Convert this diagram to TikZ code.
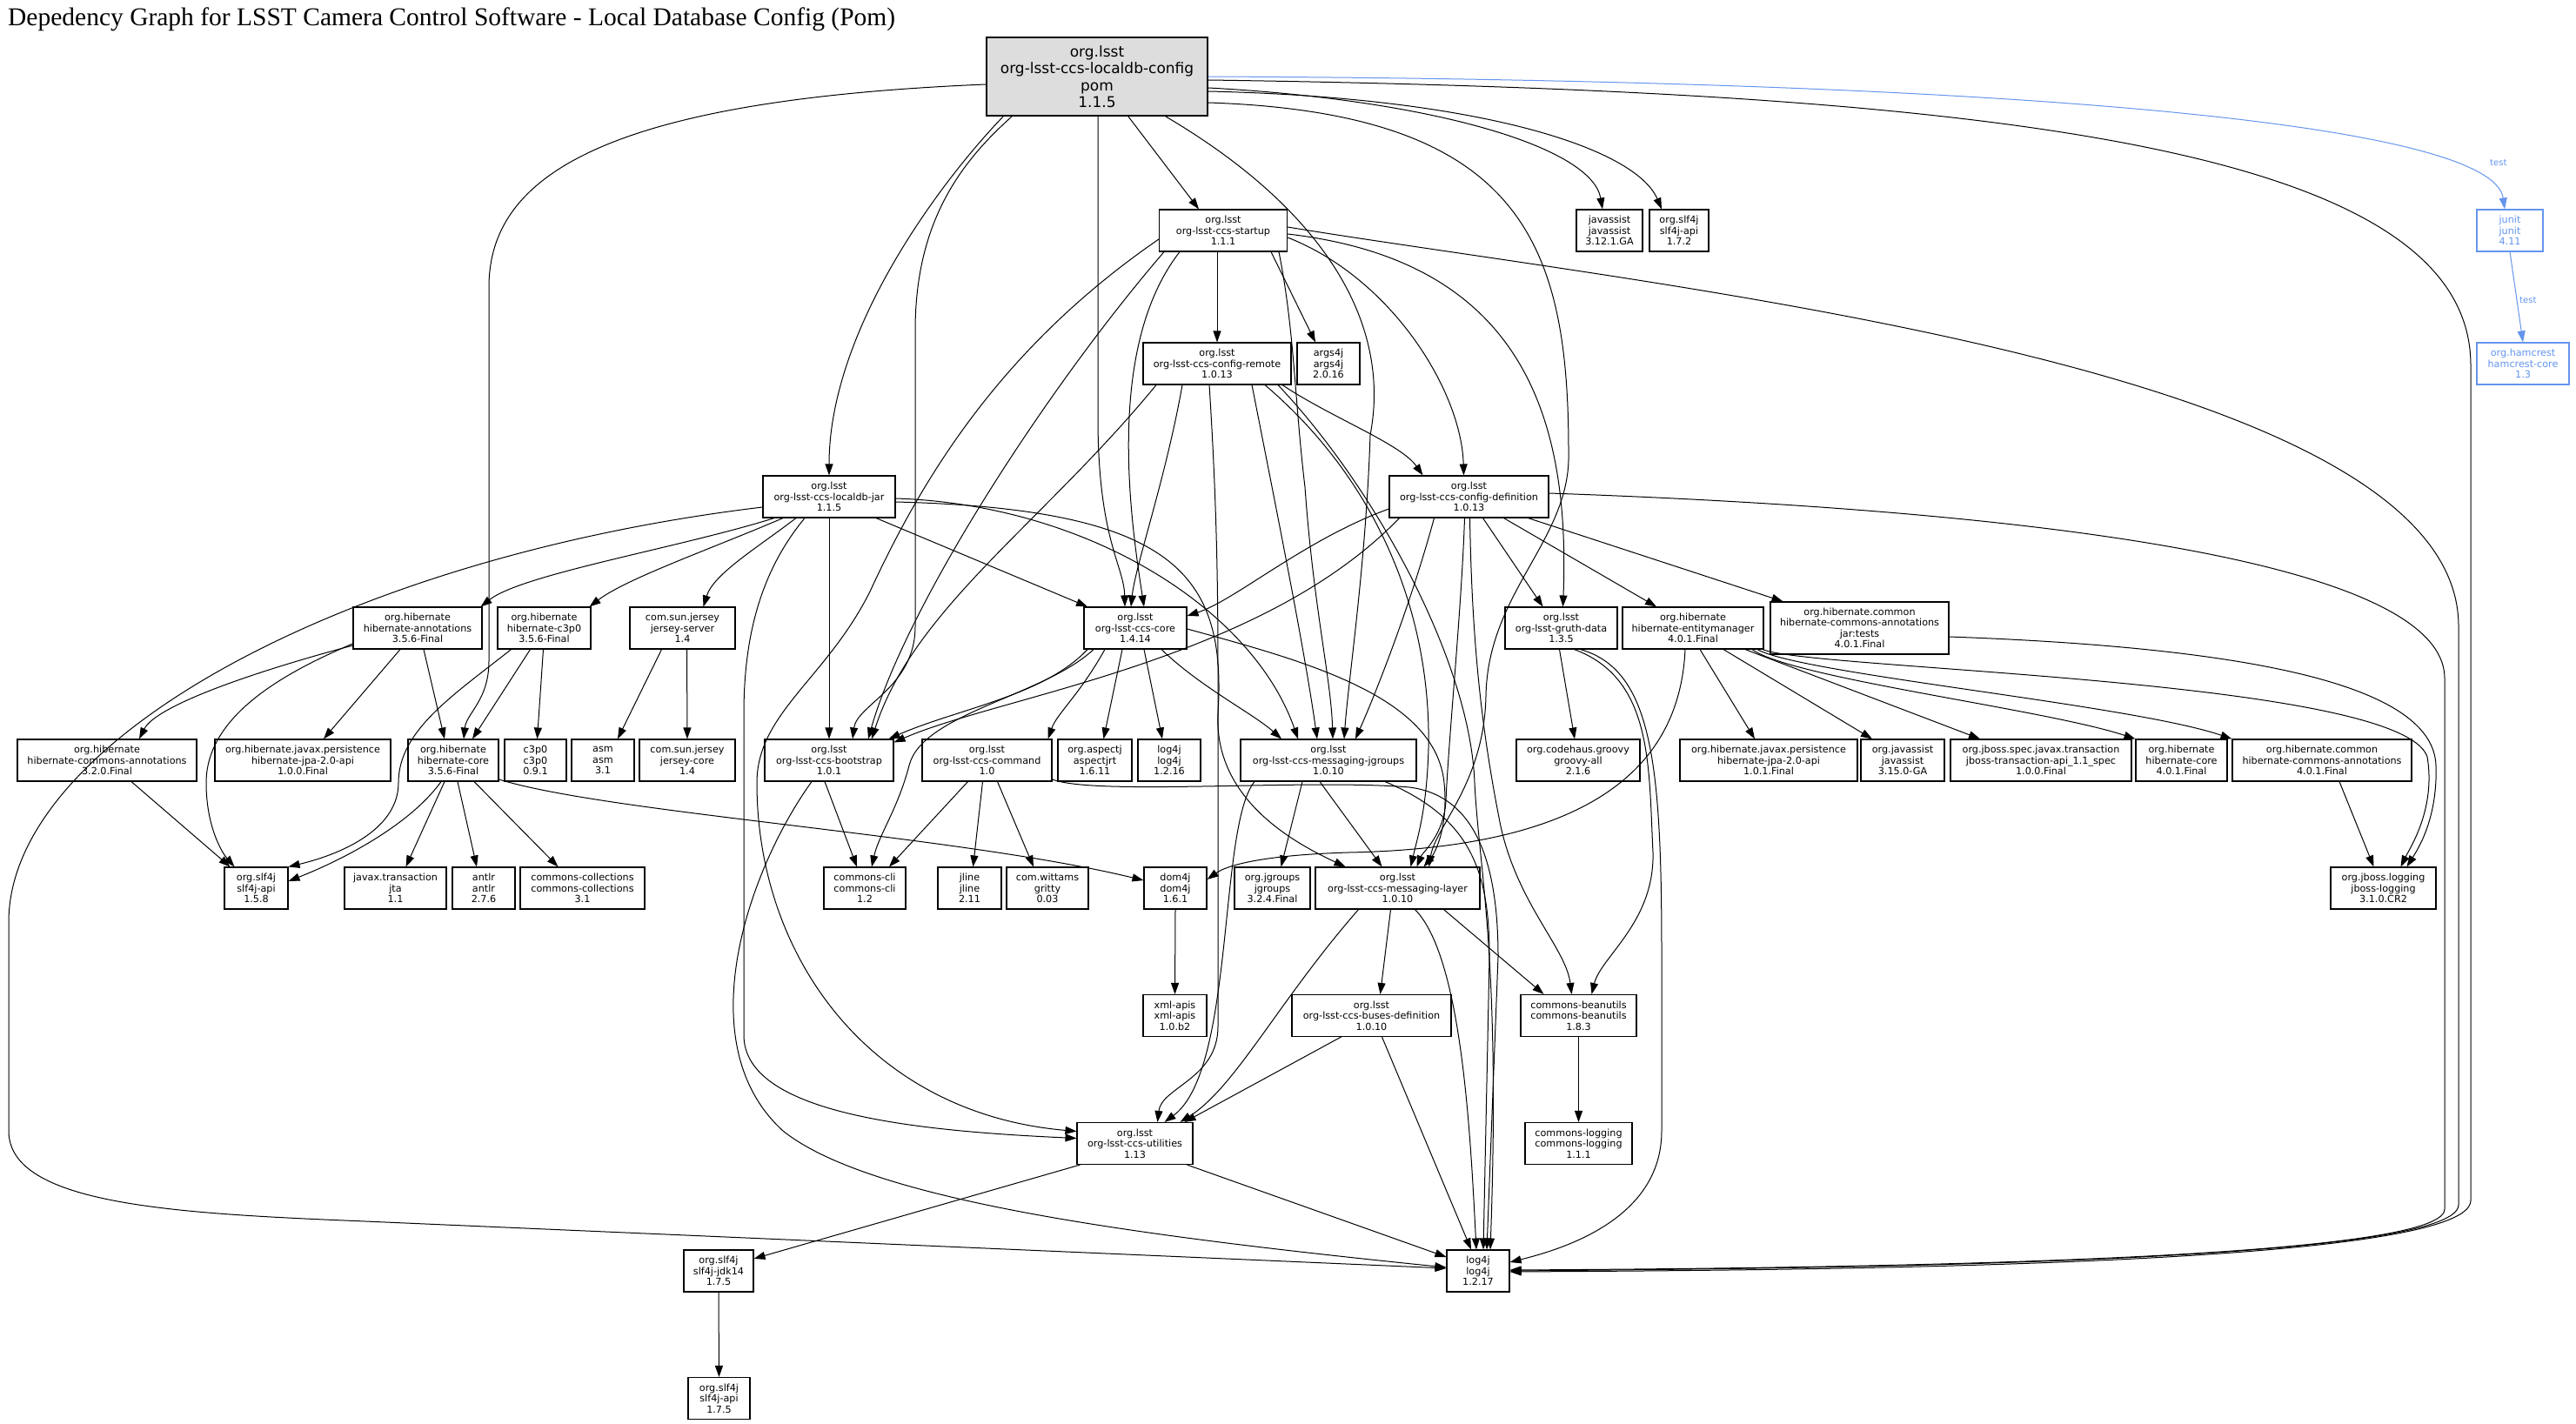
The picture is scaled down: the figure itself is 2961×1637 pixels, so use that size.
\documentclass[tikz,border=0pt]{standalone}
\usepackage{fontspec}
\setmainfont{DejaVu Sans}
\newfontfamily\titlefont{Liberation Serif}
\usetikzlibrary{arrows.meta}
\definecolor{tblue}{RGB}{100,149,237}
\definecolor{mgray}{RGB}{221,221,221}
\tikzset{
 box/.style={draw, line width=1.1pt, inner sep=0pt, align=center, minimum height=48pt, font=\fontsize{11.2}{12.5}\selectfont},
 bbox/.style={box, draw=tblue, text=tblue},
 e/.style={line width=1pt, -{Triangle[length=13pt,width=9pt]}},
 te/.style={e, tblue},
 tl/.style={text=tblue, inner sep=0pt, anchor=west, font=\fontsize{10}{12}\selectfont}
}
\begin{document}
\begin{tikzpicture}[x=1pt,y=-1pt]
\fill[white] (0,0) rectangle (2961,1637);
\useasboundingbox (0,0) rectangle (2961,1637);
\node[anchor=base west, inner sep=0pt, font=\titlefont\fontsize{29.5}{30}\selectfont] (title) at (9,30) {Depedency Graph for LSST Camera Control Software - Local Database Config (Pom)};
% row 0
\node[box, minimum width=254pt, minimum height=90pt, fill=mgray, line width=2pt, font=\fontsize{17}{19.5}\selectfont] (M) at (1261,88) {org.lsst\\org-lsst-ccs-localdb-config\\pom\\1.1.5};
% row 1
\node[box, minimum width=147pt] (ST) at (1406,265) {org.lsst\\org-lsst-ccs-startup\\1.1.1};
\node[box, minimum width=76pt] (JA1) at (1850,265) {javassist\\javassist\\3.12.1.GA};
\node[box, minimum width=68pt] (SL172) at (1930,265) {org.slf4j\\slf4j-api\\1.7.2};
\node[bbox, minimum width=76pt] (JU) at (2885,265) {junit\\junit\\4.11};
% row 2
\node[box, minimum width=170pt] (CR) at (1399,418) {org.lsst\\org-lsst-ccs-config-remote\\1.0.13};
\node[box, minimum width=72pt] (A4J) at (1527,418) {args4j\\args4j\\2.0.16};
\node[bbox, minimum width=106pt] (HAM) at (2900,418) {org.hamcrest\\hamcrest-core\\1.3};
% row 3
\node[box, minimum width=152pt] (LJ) at (953,571) {org.lsst\\org-lsst-ccs-localdb-jar\\1.1.5};
\node[box, minimum width=183pt] (CD) at (1688.5,571) {org.lsst\\org-lsst-ccs-config-definition\\1.0.13};
% row 4
\node[box, minimum width=148pt] (HA) at (480,722) {org.hibernate\\hibernate-annotations\\3.5.6-Final};
\node[box, minimum width=107pt] (HC) at (625.5,722) {org.hibernate\\hibernate-c3p0\\3.5.6-Final};
\node[box, minimum width=121pt] (JS) at (784.5,722) {com.sun.jersey\\jersey-server\\1.4};
\node[box, minimum width=118pt] (CORE) at (1305,722) {org.lsst\\org-lsst-ccs-core\\1.4.14};
\node[box, minimum width=129pt] (GD) at (1794.5,722) {org.lsst\\org-lsst-gruth-data\\1.3.5};
\node[box, minimum width=162pt] (EM) at (1946,722) {org.hibernate\\hibernate-entitymanager\\4.0.1.Final};
\node[box, minimum width=205pt, minimum height=60pt] (HCAT) at (2137.5,722) {org.hibernate.common\\hibernate-commons-annotations\\jar:tests\\4.0.1.Final};
% row 5
\node[box, minimum width=206pt] (HCA32) at (123,874) {org.hibernate\\hibernate-commons-annotations\\3.2.0.Final};
\node[box, minimum width=202pt] (JPA100) at (348,874) {org.hibernate.javax.persistence\\hibernate-jpa-2.0-api\\1.0.0.Final};
\node[box, minimum width=104pt] (HC3) at (521,874) {org.hibernate\\hibernate-core\\3.5.6-Final};
\node[box, minimum width=71pt] (C3P0) at (615.5,874) {c3p0\\c3p0\\0.9.1};
\node[box, minimum width=72pt] (ASM) at (693,874) {asm\\asm\\3.1};
\node[box, minimum width=110pt] (JC) at (790,874) {com.sun.jersey\\jersey-core\\1.4};
\node[box, minimum width=148pt] (BS) at (953,874) {org.lsst\\org-lsst-ccs-bootstrap\\1.0.1};
\node[box, minimum width=149pt] (CMD) at (1134.5,874) {org.lsst\\org-lsst-ccs-command\\1.0};
\node[box, minimum width=85pt] (ASP) at (1258.5,874) {org.aspectj\\aspectjrt\\1.6.11};
\node[box, minimum width=72pt] (L416) at (1344,874) {log4j\\log4j\\1.2.16};
\node[box, minimum width=202pt] (JG) at (1527,874) {org.lsst\\org-lsst-ccs-messaging-jgroups\\1.0.10};
\node[box, minimum width=142pt] (GRV) at (1814,874) {org.codehaus.groovy\\groovy-all\\2.1.6};
\node[box, minimum width=204pt] (JPA101) at (2033,874) {org.hibernate.javax.persistence\\hibernate-jpa-2.0-api\\1.0.1.Final};
\node[box, minimum width=96pt] (JAV) at (2187,874) {org.javassist\\javassist\\3.15.0-GA};
\node[box, minimum width=208pt] (JBT) at (2346,874) {org.jboss.spec.javax.transaction\\jboss-transaction-api\_1.1\_spec\\1.0.0.Final};
\node[box, minimum width=105pt] (HC4) at (2507.5,874) {org.hibernate\\hibernate-core\\4.0.1.Final};
\node[box, minimum width=206pt] (HCA4) at (2669,874) {org.hibernate.common\\hibernate-commons-annotations\\4.0.1.Final};
% row 6
\node[box, minimum width=73pt] (SL158) at (294.5,1021) {org.slf4j\\slf4j-api\\1.5.8};
\node[box, minimum width=117pt] (JTA) at (454.5,1021) {javax.transaction\\jta\\1.1};
\node[box, minimum width=72pt] (ANT) at (556,1021) {antlr\\antlr\\2.7.6};
\node[box, minimum width=143pt] (CC) at (669.5,1021) {commons-collections\\commons-collections\\3.1};
\node[box, minimum width=94pt] (CLI) at (994,1021) {commons-cli\\commons-cli\\1.2};
\node[box, minimum width=73pt] (JL) at (1114.5,1021) {jline\\jline\\2.11};
\node[box, minimum width=94pt] (GR) at (1204,1021) {com.wittams\\gritty\\0.03};
\node[box, minimum width=72pt] (D4J) at (1351,1021) {dom4j\\dom4j\\1.6.1};
\node[box, minimum width=87pt] (JGR) at (1462.5,1021) {org.jgroups\\jgroups\\3.2.4.Final};
\node[box, minimum width=189pt] (ML) at (1606.5,1021) {org.lsst\\org-lsst-ccs-messaging-layer\\1.0.10};
\node[box, minimum width=121pt] (JBL) at (2739.5,1021) {org.jboss.logging\\jboss-logging\\3.1.0.CR2};
% row 7
\node[box, minimum width=73pt] (XML) at (1350.5,1167.5) {xml-apis\\xml-apis\\1.0.b2};
\node[box, minimum width=183pt] (BD) at (1576.5,1167.5) {org.lsst\\org-lsst-ccs-buses-definition\\1.0.10};
\node[box, minimum width=133pt] (CB) at (1814.5,1167.5) {commons-beanutils\\commons-beanutils\\1.8.3};
% row 8
\node[box, minimum width=133pt] (UT) at (1304.5,1314.5) {org.lsst\\org-lsst-ccs-utilities\\1.13};
\node[box, minimum width=123pt] (CL) at (1814.5,1314.5) {commons-logging\\commons-logging\\1.1.1};
% row 9-10
\node[box, minimum width=80pt] (SJ) at (826,1461) {org.slf4j\\slf4j-jdk14\\1.7.5};
\node[box, minimum width=72pt] (L4) at (1699,1461) {log4j\\log4j\\1.2.17};
\node[box, minimum width=71pt] (SA175) at (826.5,1607.5) {org.slf4j\\slf4j-api\\1.7.5};
% labels
\node[tl] (t1) at (2862,187) {test};
\node[tl] (t2) at (2896,345) {test};
% ---- edges from M
\draw[e] ([yshift=-9pt]M.west) .. controls (700,115) and (562,200) .. (562,330) -- (562,760) .. controls (562,805) and (536,820) .. ([xshift=12pt]HC3.north);
\draw[e] ([xshift=-108pt]M.south) .. controls (1080,210) and (953,380) .. (LJ.north);
\draw[e] ([xshift=-98pt]M.south) .. controls (1100,190) and (1052,260) .. (1052,380) -- (1052,720) .. controls (1052,790) and (985,810) .. ([xshift=27pt]BS.north);
\draw[e] ([xshift=1pt]M.south) -- (1262,480) .. controls (1262,620) and (1292,650) .. ([xshift=-12pt]CORE.north);
\draw[e] ([xshift=36pt]M.south) -- ([xshift=-28pt]ST.north);
\draw[e] ([xshift=79pt]M.south) .. controls (1520,240) and (1600,370) .. (1575,500) .. controls (1570,650) and (1550,780) .. ([xshift=18pt]JG.north);
\draw[e] ([yshift=-30pt]M.east) .. controls (1750,130) and (1803,280) .. (1803,520) .. controls (1806,620) and (1710,680) .. (1708,800) .. controls (1706,900) and (1650,950) .. ([xshift=36pt]ML.north);
\draw[e] ([yshift=-13pt]M.east) .. controls (1650,115) and (1830,170) .. ([xshift=-8pt]JA1.north);
\draw[e] ([yshift=-17pt]M.east) .. controls (1700,112) and (1880,170) .. ([xshift=-20pt]SL172.north);
\draw[te] (M.east) .. controls (2300,92) and (2865,140) .. ([xshift=-6pt]JU.north);
\draw[e] ([yshift=-4pt]M.east) .. controls (2300,105) and (2840,170) .. (2840,420) -- (2840,1380) .. controls (2840,1455) and (2100,1460) .. ([yshift=-1pt]L4.east);
% ---- LJ
\draw[e] ([yshift=-12pt]LJ.west) .. controls (400,640) and (10,850) .. (10,1060) -- (10,1300) .. controls (10,1385) and (200,1395) .. (420,1404) -- ([yshift=3pt]L4.west);
\draw[e] ([xshift=-63pt]LJ.south) .. controls (780,630) and (600,660) .. ([xshift=-2pt]HA.north east);
\draw[e] ([xshift=-53pt]LJ.south) .. controls (820,630) and (720,665) .. ([xshift=-2pt]HC.north east);
\draw[e] ([xshift=-38pt]LJ.south) .. controls (870,630) and (820,660) .. ([xshift=24pt]JS.north);
\draw[e] ([xshift=-28pt]LJ.south) .. controls (880,650) and (855,720) .. (855,820) -- (855,1190) .. controls (855,1280) and (1050,1300) .. ([yshift=6pt]UT.west);
\draw[e] (LJ.south) -- (BS.north);
\draw[e] ([xshift=54pt]LJ.south) -- ([xshift=-55pt]CORE.north);
\draw[e] ([yshift=-2pt]LJ.east) .. controls (1250,580) and (1440,700) .. ([xshift=-35pt]JG.north);
\draw[e] ([yshift=-6pt]LJ.east) .. controls (1350,585) and (1410,660) .. (1400,820) .. controls (1395,920) and (1490,970) .. ([xshift=-60pt]ML.north);
% ---- CD
\draw[e] ([yshift=-14pt]CD.west) .. controls (1500,620) and (1420,690) .. ([yshift=14pt]CORE.east);
\draw[e] ([xshift=16pt]CD.south) -- ([xshift=-21pt]GD.north);
\draw[e] ([xshift=40pt]CD.south) -- ([xshift=-42pt]EM.north);
\draw[e] ([xshift=68pt]CD.south) -- ([xshift=-88pt]HCAT.north);
\draw[e] ([yshift=4pt]CD.east) .. controls (2300,585) and (2810,640) .. (2810,780) -- (2810,1390) .. controls (2810,1450) and (2100,1458) .. ([yshift=1pt]L4.east);
\draw[e] ([xshift=-40pt]CD.south) .. controls (1620,700) and (1580,800) .. ([xshift=31pt]JG.north);
\draw[e] ([xshift=-5pt]CD.south) .. controls (1680,700) and (1665,850) .. (1662,920) .. controls (1660,960) and (1635,980) .. ([xshift=22pt]ML.north);
\draw[e] ([xshift=-80pt]CD.south) .. controls (1450,760) and (1150,800) .. ([yshift=-4pt]BS.north east);
\draw[e] ([xshift=1pt]CD.south) .. controls (1692,750) and (1705,850) .. (1725,950) .. controls (1745,1040) and (1800,1090) .. ([xshift=-8pt]CB.north);
% ---- CR
\draw[e] ([xshift=75pt]CR.south) .. controls (1530,480) and (1610,510) .. ([xshift=-53pt]CD.north);
\draw[e] ([xshift=-40pt]CR.south) .. controls (1340,550) and (1305,650) .. ([xshift=-5pt]CORE.north);
\draw[e] ([xshift=-70pt]CR.south) .. controls (1200,600) and (1050,700) .. ([xshift=49pt]BS.north);
\draw[e] ([xshift=-9pt]CR.south) .. controls (1400,600) and (1400,700) .. (1400,800) -- (1400,1180) .. controls (1400,1240) and (1335,1250) .. ([xshift=26pt]UT.north);
\draw[e] ([xshift=40pt]CR.south) .. controls (1470,600) and (1500,750) .. ([xshift=-13pt]JG.north);
\draw[e] ([xshift=55pt]CR.south) .. controls (1580,550) and (1645,700) .. (1642,860) .. controls (1640,930) and (1630,960) .. ([xshift=15pt]ML.north);
\draw[e] ([xshift=70pt]CR.south) .. controls (1580,560) and (1690,760) .. (1695,900) .. controls (1700,1000) and (1725,1100) .. ([xshift=14pt]L4.north);
% ---- ST
\draw[e] ([xshift=-7pt]ST.south) -- (CR.north);
\draw[e] ([xshift=55pt]ST.south) -- ([xshift=-15pt]A4J.north);
\draw[e] ([yshift=-8pt]ST.east) .. controls (1600,320) and (1680,450) .. ([xshift=-6pt]CD.north);
\draw[e] ([yshift=-4pt]ST.east) .. controls (1750,300) and (1805,480) .. ([xshift=2pt]GD.north);
\draw[e] ([yshift=4pt]ST.east) .. controls (1900,330) and (2826,420) .. (2826,720) -- (2826,1385) .. controls (2826,1452) and (2100,1458) .. (L4.east);
\draw[e] ([xshift=-50pt]ST.south) .. controls (1270,400) and (1300,600) .. ([xshift=10pt]CORE.north);
\draw[e] ([xshift=-68pt]ST.south) .. controls (1200,450) and (1040,700) .. ([xshift=45pt]BS.north);
\draw[e] ([yshift=-10pt]ST.west) .. controls (1150,400) and (1060,550) .. (1000,680) .. controls (950,780) and (870,820) .. (870,900) .. controls (870,1100) and (1000,1280) .. ([yshift=14pt]UT.west);
\draw[e] ([xshift=64pt]ST.south) .. controls (1488,380) and (1488,460) .. (1500,560) .. controls (1510,700) and (1530,780) .. ([xshift=5pt]JG.north);
% ---- CORE
\draw[e] ([xshift=-55pt]CORE.south) .. controls (1200,800) and (1100,815) .. ([xshift=-6pt]BS.north east);
\draw[e] ([xshift=-48pt]CORE.south) .. controls (1200,800) and (1060,820) .. (1045,880) .. controls (1032,930) and (1010,960) .. ([xshift=8pt]CLI.north);
\draw[e] ([xshift=-35pt]CORE.south) .. controls (1240,800) and (1215,820) .. ([xshift=-5pt]CMD.north east);
\draw[e] ([xshift=-15pt]CORE.south) -- ([xshift=10pt]ASP.north);
\draw[e] ([xshift=10pt]CORE.south) -- ([xshift=-8pt]L416.north);
\draw[e] ([xshift=30pt]CORE.south) .. controls (1380,790) and (1440,820) .. ([xshift=-54pt]JG.north);
\draw[e] ([yshift=-1pt]CORE.east) .. controls (1500,760) and (1650,800) .. (1660,900) .. controls (1665,950) and (1650,980) .. ([xshift=30pt]ML.north);
% ---- BS, CMD
\draw[e] ([xshift=-5pt]BS.south) -- ([xshift=-9pt]CLI.north);
\draw[e] ([xshift=-20pt]BS.south) .. controls (860,1000) and (790,1200) .. (900,1300) .. controls (1000,1380) and (1300,1420) .. ([yshift=4pt]L4.west);
\draw[e] ([xshift=-22pt]CMD.south) -- ([xshift=28pt]CLI.north);
\draw[e] ([xshift=-5pt]CMD.south) -- ([xshift=4pt]JL.north);
\draw[e] ([xshift=12pt]CMD.south) -- ([xshift=-16pt]GR.north);
\draw[e] ([yshift=-22pt]CMD.east) .. controls (1260,915) and (1500,895) .. (1620,905) .. controls (1700,915) and (1722,1000) .. (1722,1100) -- ([xshift=10pt]L4.north);
% ---- JG, ML, BD
\draw[e] ([xshift=-30pt]JG.south) -- ([xshift=10pt]JGR.north);
\draw[e] ([xshift=-10pt]JG.south) -- ([xshift=-18pt]ML.north);
\draw[e] ([xshift=-85pt]JG.south) .. controls (1400,950) and (1420,1230) .. ([xshift=34pt]UT.north);
\draw[e] ([xshift=65pt]JG.south) .. controls (1690,940) and (1712,1000) .. (1712,1100) -- ([xshift=6pt]L4.north);
\draw[e] ([xshift=-45pt]ML.south) .. controls (1470,1150) and (1420,1250) .. ([xshift=52pt]UT.north);
\draw[e] ([xshift=-8pt]ML.south) -- ([xshift=10pt]BD.north);
\draw[e] ([xshift=20pt]ML.south) .. controls (1680,1100) and (1690,1300) .. ([xshift=-2pt]L4.north);
\draw[e] ([xshift=53pt]ML.south) -- ([xshift=-40pt]CB.north);
\draw[e] ([xshift=-35pt]BD.south) -- ([xshift=57pt]UT.north);
\draw[e] ([xshift=12pt]BD.south) -- ([xshift=-8pt]L4.north);
\draw[e] (CB.south) -- (CL.north);
\draw[e] ([xshift=-63pt]UT.south) -- ([yshift=14pt]SJ.east);
\draw[e] ([xshift=60pt]UT.south) -- ([yshift=16pt]L4.west);
\draw[e] (SJ.south) -- (SA175.north);
% ---- GD
\draw[e] ([xshift=-2pt]GD.south) -- ([xshift=-4pt]GRV.north);
\draw[e] ([xshift=15pt]GD.south) .. controls (1900,780) and (1895,880) .. (1900,980) .. controls (1902,1060) and (1840,1100) .. ([xshift=15pt]CB.north);
\draw[e] ([xshift=22pt]GD.south) .. controls (1900,770) and (1910,880) .. (1910,1100) -- (1910,1300) .. controls (1910,1400) and (1800,1435) .. ([yshift=10pt]L4.east);
% ---- EM
\draw[e] ([xshift=-9pt]EM.south) .. controls (1930,900) and (1800,975) .. (1550,980) .. controls (1450,983) and (1410,995) .. ([yshift=10pt]D4J.east);
\draw[e] ([xshift=8pt]EM.south) -- ([xshift=-16pt]JPA101.north);
\draw[e] ([xshift=35pt]EM.south) -- ([xshift=-35pt]JAV.north);
\draw[e] ([xshift=60pt]EM.south) -- ([xshift=-70pt]JBT.north);
\draw[e] ([xshift=68pt]EM.south) .. controls (2060,780) and (2350,815) .. (HC4.north west);
\draw[e] ([xshift=74pt]EM.south) .. controls (2070,775) and (2450,810) .. (HCA4.north west);
\draw[e] ([xshift=80pt]EM.south) .. controls (2080,770) and (2760,780) .. (2790,870) .. controls (2800,930) and (2770,975) .. ([xshift=20pt]JBL.north);
\draw[e] ([yshift=-10pt]HCAT.east) .. controls (2600,745) and (2797,790) .. (2800,880) .. controls (2802,940) and (2780,975) .. ([xshift=27pt]JBL.north);
\draw[e] ([xshift=20pt]HCA4.south) -- ([xshift=-11pt]JBL.north);
% ---- hibernate 3 family
\draw[e] ([yshift=-20pt]HA.west) .. controls (300,770) and (180,810) .. ([xshift=37pt]HCA32.north);
\draw[e] ([yshift=-18pt]HA.west) .. controls (310,780) and (237,830) .. (237,900) .. controls (237,950) and (255,980) .. ([xshift=-25pt]SL158.north);
\draw[e] ([xshift=-20pt]HA.south) -- ([xshift=24pt]JPA100.north);
\draw[e] ([xshift=7pt]HA.south) -- ([xshift=-10pt]HC3.north);
\draw[e] ([xshift=-38pt]HC.south) .. controls (520,800) and (458,840) .. (458,900) .. controls (458,950) and (400,980) .. (SL158.north east);
\draw[e] ([xshift=-16pt]HC.south) -- ([xshift=22pt]HC3.north);
\draw[e] ([xshift=-1pt]HC.south) -- ([xshift=2pt]C3P0.north);
\draw[e] ([xshift=-24pt]JS.south) -- ([xshift=17pt]ASM.north);
\draw[e] ([xshift=5pt]JS.south) -- (JC.north);
\draw[e] ([xshift=-14pt]HC3.south) .. controls (470,950) and (390,990) .. ([yshift=8pt]SL158.east);
\draw[e] ([xshift=-10pt]HC3.south) -- ([xshift=12pt]JTA.north);
\draw[e] ([xshift=5pt]HC3.south) -- ([xshift=-8pt]ANT.north);
\draw[e] ([xshift=24pt]HC3.south) -- ([xshift=-28pt]CC.north);
\draw[e] ([yshift=-22pt]HC3.east) .. controls (700,935) and (1100,960) .. ([yshift=9pt]D4J.west);
\draw[e] ([xshift=28pt]HCA32.south) -- ([xshift=-30pt]SL158.north);
\draw[e] (D4J.south) -- (XML.north);
\draw[te] (JU.south) -- (HAM.north);
\end{tikzpicture}
\end{document}
